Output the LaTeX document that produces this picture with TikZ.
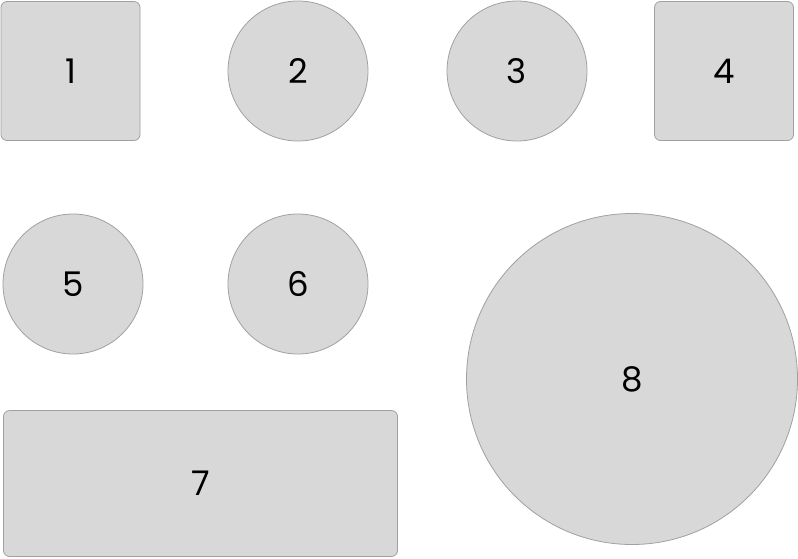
\documentclass[tikz,border=0pt]{standalone}
\usepackage{fontspec}
\setmainfont{Poppins}
\definecolor{shapefill}{RGB}{216,216,216}
\definecolor{shapeline}{RGB}{160,160,160}
\begin{document}
\begin{tikzpicture}[x=1pt,y=-1pt,
  base/.style={fill=shapefill,draw=shapeline,line width=0.8pt,inner sep=0pt,font=\fontsize{34}{34}\selectfont,text=black},
  roundbox/.style={base,rectangle,rounded corners=6pt},
  disc/.style={base,circle}]
\useasboundingbox (0,0) rectangle (798,558);
\node[roundbox,minimum width=139pt,minimum height=139pt] (n1) at (70.5,71) {1};
\node[disc,minimum size=140pt] (n2) at (298,71) {2};
\node[disc,minimum size=140pt] (n3) at (517,71) {3};
\node[roundbox,minimum width=139pt,minimum height=139pt] (n4) at (724,71) {4};
\node[disc,minimum size=140pt] (n5) at (73,284) {5};
\node[disc,minimum size=140pt] (n6) at (298,284) {6};
\node[roundbox,minimum width=394pt,minimum height=146pt] (n7) at (200.5,483.5) {7};
\node[disc,minimum size=331pt] (n8) at (632,379) {8};
\end{tikzpicture}
\end{document}
